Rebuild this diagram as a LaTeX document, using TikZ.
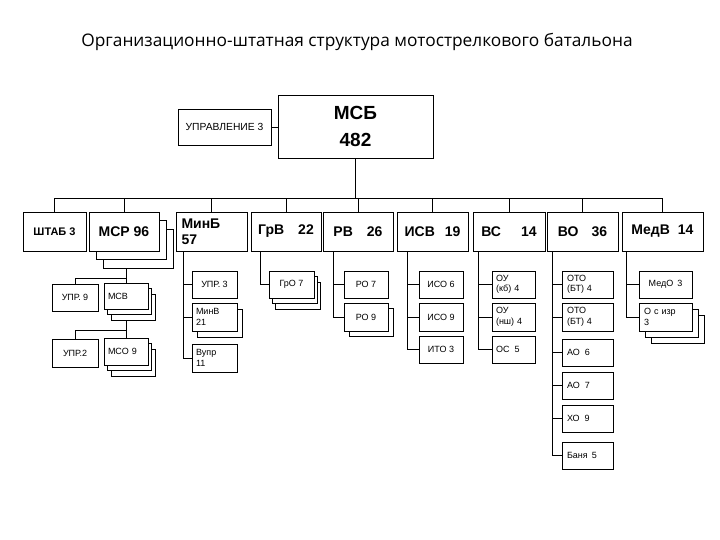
\documentclass[tikz,border=0pt]{standalone}
\usepackage{fontspec}
\setmainfont{Liberation Sans}
\newfontfamily\titlefont{Open Sans}
\tikzset{
  box/.style={draw, fill=white, line width=0.8pt, inner sep=0pt},
  ln/.style={line width=0.8pt},
  small/.style={font=\fontsize{9}{10.5}\selectfont},
  big/.style={font=\bfseries\fontsize{14}{16}\selectfont},
}
% \bx[opts]{name}{x1}{y1}{x2}{y2}{text}
\newcommand\bx[7][]{\node[box,minimum width={(#5-#3)*1pt},minimum height={(#6-#4)*1pt},#1] (#2) at ({(#3+#5)/2},{(#4+#6)/2}) {#7};}
\begin{document}
\begin{tikzpicture}[x=1pt,y=-1pt]
\useasboundingbox (0,0) rectangle (720,540);
\node[font=\titlefont\fontsize{17.3}{19}\selectfont] (title) at (357,42) {Организационно-штатная структура мотострелкового батальона};

% top
\bx[font=\bfseries\fontsize{19}{27}\selectfont,align=center]{msb}{278}{95}{433}{158}{МСБ\\482}
\bx[font=\fontsize{10.3}{12}\selectfont]{upr}{178}{109}{271}{145}{УПРАВЛЕНИЕ 3}
\draw[ln] (upr.east) -- (upr.east -| msb.west);

\bx[font=\bfseries\fontsize{11}{13}\selectfont]{shtab}{23}{212}{86}{251}{ШТАБ 3}
\bx{msrb}{103}{229}{173}{268}{}
\bx{msra}{96}{220.5}{166}{259.5}{}
\bx[big]{msr}{89}{212}{159}{251}{МСР 96}
\bx[big,align=left,text width=60pt]{minb}{176}{212}{247}{251}{МинБ\\57}
\bx[big]{grv}{251}{212}{321}{251}{ГрВ\hspace{14pt}22}
\bx[big]{rv}{323}{212}{393}{251}{РВ\hspace{14pt}26}
\bx[big]{isv}{397}{212}{468}{251}{ИСВ\hspace{10pt}19}
\bx[big]{vs}{473}{212}{545}{251}{ВС\hspace{20pt}14}
\bx[big]{vo}{547}{212}{618}{251}{ВО\hspace{13pt}36}
\bx[big]{medv}{622}{212}{703}{251}{МедВ\hspace{8pt}14}

\coordinate (bus) at (0,198);
\draw[ln] (msb.south) -- (msb.south |- bus);
\draw[ln] (shtab.north |- bus) -- (medv.north |- bus);
\foreach \n in {shtab,msr,minb,grv,rv,isv,vs,vo,medv}
  \draw[ln] (\n.north) -- (\n.north |- bus);

% MSR subtree
\bx[small]{upr9}{52}{284}{98}{311}{УПР. 9}
\bx{mcvb}{111}{294}{155}{320}{}
\bx{mcva}{107.5}{288.5}{151.5}{314.5}{}
\bx[small,align=left,text width=36pt]{mcv}{104}{283}{148}{309}{МСВ}
\bx[small]{upr2}{52}{339}{98}{367}{УПР.2}
\bx{mcob}{111}{349}{155}{376}{}
\bx{mcoa}{107.5}{343.5}{151.5}{370.5}{}
\bx[small,align=left,text width=36pt]{mco}{104}{338}{148}{365}{МСО 9}
\draw[ln] (mcv.north) -- (mcv.north |- msrb.south);
\draw[ln] (upr9.north) |- (mcv.north |- 0,278);
\draw[ln] (mco.north) -- (mco.north |- mcvb.south);
\draw[ln] (upr2.north) |- (mco.north |- 0,330);

% MinB subtree
\bx[small]{upr3}{192}{271}{237}{298}{УПР. 3}
\bx{minvs}{197}{309}{242}{337}{}
\bx[small,align=left,text width=37pt]{minv}{192}{303}{237}{331}{МинВ\\21}
\bx[small,align=left,text width=37pt]{vupr}{192}{344}{237}{372}{Вупр\\11}
\draw[ln] ([xshift=8pt]minb.south west) |- (vupr.west);
\draw[ln] (upr3.west) -- ++(-8,0);
\draw[ln] (minv.west) -- ++(-8,0);

% GrV
\bx{grob}{275.6}{282}{320.6}{309}{}
\bx{groa}{272.3}{276.5}{317.3}{303.5}{}
\bx[small]{gro}{269}{271}{314}{298}{ГрО 7}
\draw[ln] ([xshift=10pt]grv.south west) |- (gro.west);

% RV
\bx[small]{ro7}{344}{271}{388}{298}{РО 7}
\bx{ro9s}{349}{308}{393}{336}{}
\bx[small]{ro9}{344}{303}{388}{331}{РО 9}
\draw[ln] ([xshift=11pt]rv.south west) |- (ro9.west);
\draw[ln] (ro7.west) -- ++(-10,0);

% ISV
\bx[small]{iso6}{419}{271}{463}{298}{ИСО 6}
\bx[small]{iso9}{419}{303}{463}{331}{ИСО 9}
\bx[small]{ito3}{419}{336}{463}{363}{ИТО 3}
\draw[ln] ([xshift=11pt]isv.south west) |- (ito3.west);
\draw[ln] (iso6.west) -- ++(-11,0);
\draw[ln] (iso9.west) -- ++(-11,0);

% VS
\bx[small,align=left,text width=35pt]{ouk}{492}{271}{535}{298}{ОУ\\(кб) 4}
\bx[small,align=left,text width=35pt]{oun}{492}{303}{535}{331}{ОУ\\(нш) 4}
\bx[small,align=left,text width=35pt]{os5}{492}{336}{535}{363}{ОС\hspace{5pt}5}
\draw[ln] ([xshift=6pt]vs.south west) |- (os5.west);
\draw[ln] (ouk.west) -- ++(-13,0);
\draw[ln] (oun.west) -- ++(-13,0);

% VO
\bx[small,align=left,text width=41pt]{oto1}{562}{271}{613}{298}{ОТО\\(БТ) 4}
\bx[small,align=left,text width=41pt]{oto2}{562}{303}{613}{331}{ОТО\\(БТ) 4}
\bx[small,align=left,text width=41pt]{ao6}{562}{339}{613}{366}{АО\hspace{5pt}6}
\bx[small,align=left,text width=41pt]{ao7}{562}{372}{613}{399}{АО\hspace{5pt}7}
\bx[small,align=left,text width=41pt]{xo9}{562}{405}{613}{432}{ХО\hspace{5pt}9}
\bx[small,align=left,text width=41pt]{banya}{562}{442}{613}{469}{Баня\hspace{4pt}5}
\draw[ln] ([xshift=6pt]vo.south west) |- (banya.west);
\foreach \n in {oto1,oto2,ao6,ao7,xo9}
  \draw[ln] (\n.west) -- ++(-9,0);

% MedV
\bx[small]{medo}{639}{271}{692}{298}{МедО\hspace{4pt}3}
\bx{osb}{651}{315}{704}{343}{}
\bx{osa}{645}{309}{698}{337}{}
\bx[small,align=left,text width=43pt]{osizr}{639}{303}{692}{331}{О с изр\\3}
\draw[ln] ([xshift=5pt]medv.south west) |- (osizr.west);
\draw[ln] (medo.west) -- ++(-12,0);
\end{tikzpicture}
\end{document}
